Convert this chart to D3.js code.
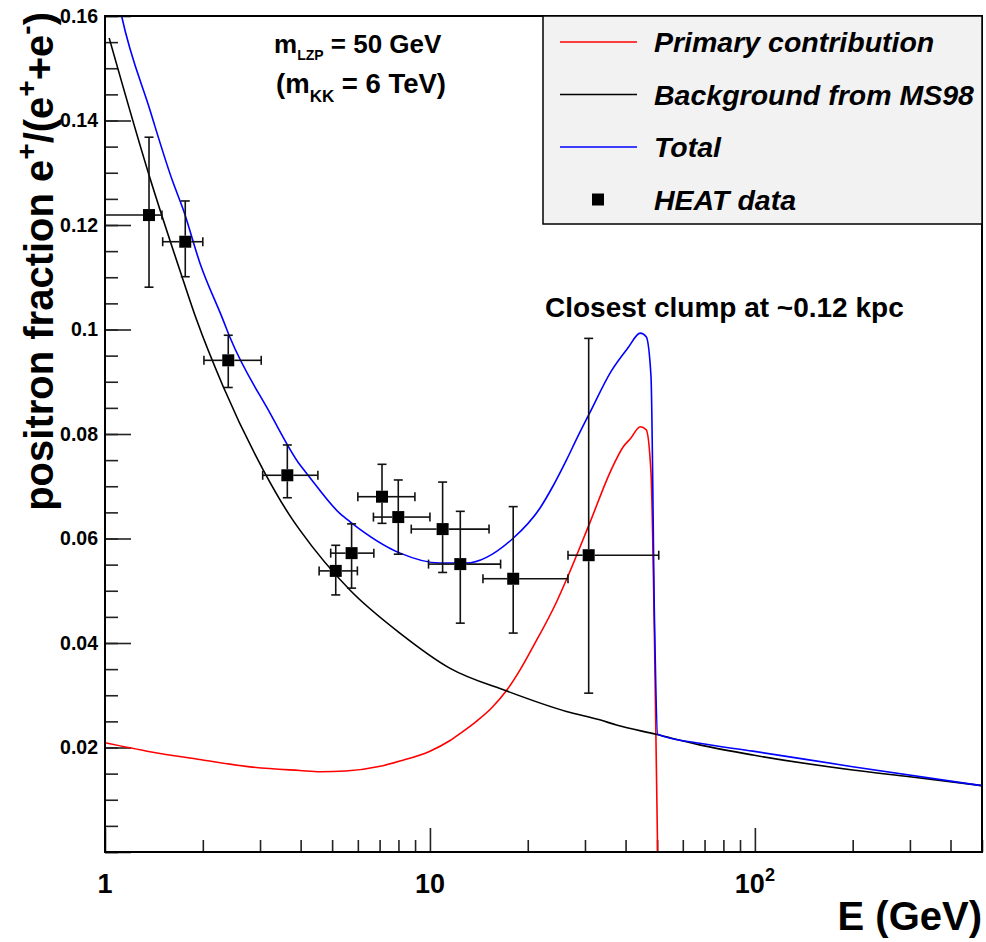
<!DOCTYPE html>
<html>
<head>
<meta charset="utf-8">
<script src="https://cdn.jsdelivr.net/npm/d3@7"></script>
<style>
    body { margin: 0; background: #fff; }
    svg text { font-family: "Liberation Sans", Arial, Helvetica, sans-serif; font-weight: bold; }
    .curve { fill: none; stroke-width: 1.6; }
    .tick line { stroke: #222; stroke-width: 1.6; }
</style>
</head>
<body>
<div id="graph"></div>
<script>
/*
    Positron fraction vs energy, HEAT data + model curves
*/

// HEAT data points (E in GeV, fraction)
var heatE        = [1.366, 1.766, 2.395, 3.64, 5.13, 5.74, 7.12, 7.99, 10.94, 12.40, 18.04, 30.8]
var heatFrac     = [0.1219, 0.1168, 0.0941, 0.0721, 0.0538, 0.0572, 0.0680, 0.0641, 0.0618, 0.0551, 0.0523, 0.0568]
var heatELow     = [1.0, 1.505, 2.016, 3.057, 4.56, 4.95, 6.00, 6.70, 8.76, 9.9, 14.56, 26.6]
var heatEHigh    = [1.497, 2.0, 3.025, 4.52, 5.98, 6.72, 8.99, 10.0, 15.2, 16.5, 26.6, 50.6]
var heatFracLow  = [0.1081, 0.1101, 0.0889, 0.0678, 0.0492, 0.0505, 0.0629, 0.0570, 0.0535, 0.0438, 0.0419, 0.0304]
var heatFracHigh = [0.1368, 0.1246, 0.0989, 0.0779, 0.0587, 0.0628, 0.0742, 0.0712, 0.0708, 0.0652, 0.0661, 0.0983]

// Background from MS98
var bgE    = [1.03, 1.375, 1.726, 1.915, 2.31, 3.07, 3.75, 3.98, 5.68, 8.08, 11.5, 17.25, 26.3, 33.3, 37.5, 49.6, 67.6, 98.6, 200, 300, 500]
var bgFrac = [0.1558, 0.129, 0.1101, 0.1018, 0.0891, 0.0731, 0.0639, 0.0616, 0.0501, 0.0419, 0.0352, 0.0308, 0.0269, 0.0253, 0.0243, 0.02253, 0.0205, 0.01856, 0.0157, 0.0144, 0.0127]

// Primary contribution
var priE    = [1.0, 1.375, 1.96, 2.79, 3.98, 4.6, 5.5, 7.03, 8.08, 10, 11.5, 12.4, 13.9, 15.5, 17.25, 19.0, 20.77, 24.5, 26.3, 31.0, 36.1, 39.4, 41.5, 44.4, 46.3, 47.9, 49.1, 50.2]
var priFrac = [0.0209, 0.0192, 0.0177, 0.0163, 0.0156, 0.01537, 0.0155, 0.0164, 0.0174, 0.0193, 0.0213, 0.0227, 0.0250, 0.0276, 0.0310, 0.0350, 0.0393, 0.0478, 0.0521, 0.0629, 0.0731, 0.0776, 0.0792, 0.0814, 0.0808, 0.0725, 0.0406, 0.0]

// Total
var totE    = [1.0, 1.125, 1.375, 1.61, 1.742, 1.96, 2.31, 2.42, 3.22, 3.98, 4.17, 5.28, 5.68, 8.1, 10.7, 12.9, 18.0, 21.8, 23.9, 26.3, 28.5, 31.0, 36.1, 40.7, 44.4, 46.3, 47.9, 49.1, 50.2, 67.6, 98.6, 200, 500]
var totFrac = [0.177, 0.16, 0.142, 0.1286, 0.1229, 0.1127, 0.1018, 0.0986, 0.0840, 0.0741, 0.0725, 0.0648, 0.0632, 0.0572, 0.0553, 0.0553, 0.0600, 0.0658, 0.0700, 0.0750, 0.0795, 0.0840, 0.0920, 0.0965, 0.0993, 0.0986, 0.091, 0.0444, 0.02253, 0.0208, 0.0193, 0.01633, 0.0127]

// axis ticks
var yMajor = [0, 0.02, 0.04, 0.06, 0.08, 0.1, 0.12, 0.14, 0.16]
var yLabels = ["0.02", "0.04", "0.06", "0.08", "0.1", "0.12", "0.14", "0.16"]
var xMajor = [1, 10, 100]
var xMinor = [2, 3, 4, 5, 6, 7, 8, 9, 20, 30, 40, 50, 60, 70, 80, 90, 200, 300, 400, 500]

var legendItems = [
    { label: "Primary contribution", color: "#ff0000", kind: "line" },
    { label: "Background from MS98", color: "#000000", kind: "line" },
    { label: "Total", color: "#0000ff", kind: "line" },
    { label: "HEAT data", color: "#000000", kind: "marker" }
]

/*
    Set the dimensions and margins of the graph
*/
var W = 986, H = 942
var margin = {top: 16, right: 4, bottom: 90, left: 105},
    width = W - margin.left - margin.right,
    height = H - margin.top - margin.bottom;

var svg = d3.select("#graph").append("svg")
            .attr("width", W)
            .attr("height", H)

var g = svg.append("g")
           .attr("transform", "translate(" + margin.left + "," + margin.top + ")")

var x = d3.scaleLog().domain([1, 500]).range([0, width]),
    y = d3.scaleLinear().domain([0, 0.16]).range([height, 0]);

g.append("clipPath").attr("id", "frame-clip")
    .append("rect").attr("width", width).attr("height", height)

// ticks, pointing inside the frame
g.append("g")
    .call(d3.axisRight(y).tickValues(d3.range(0, 0.1601, 0.005)).tickSize(13).tickFormat(""))
g.append("g")
    .call(d3.axisRight(y).tickValues(yMajor).tickSize(26).tickFormat(""))
g.append("g")
    .attr("transform", "translate(0," + height + ")")
    .call(d3.axisTop(x).tickValues(xMinor).tickSize(12).tickFormat(""))
g.append("g")
    .attr("transform", "translate(0," + height + ")")
    .call(d3.axisTop(x).tickValues(xMajor).tickSize(24).tickFormat(""))
g.selectAll(".domain").remove()

// y tick labels
var yLab = g.append("g")
    .call(d3.axisLeft(y).tickValues(yMajor.slice(1)).tickSize(0).tickPadding(7)
        .tickFormat(function (d, i) { return yLabels[i] }))
yLab.select(".domain").remove()
yLab.selectAll("text").attr("font-size", 19.5).attr("fill", "#000")
    .attr("font-family", "Liberation Sans, Arial, sans-serif")

// x tick labels
xMajor.forEach(function (d, i) {
    var t = g.append("text")
        .attr("x", x(d))
        .attr("y", height + 41)
        .attr("text-anchor", "middle")
        .attr("font-size", 27)
    if (i < 2) {
        t.text(String(d))
    } else {
        t.append("tspan").text("10")
        t.append("tspan").attr("dy", -12).attr("font-size", 18).text("2")
    }
})

// curves
var line = d3.line()
    .x(function (d) { return x(d[0]) })
    .y(function (d) { return y(d[1]) })
    .curve(d3.curveMonotoneX)

var curves = g.append("g").attr("clip-path", "url(#frame-clip)")

function drawCurve(es, vs, color) {
    curves.append("path")
        .attr("class", "curve")
        .attr("stroke", color)
        .attr("d", line(es.map(function (e, i) { return [e, vs[i]] })))
}
drawCurve(priE, priFrac, "#ff0000")
drawCurve(bgE, bgFrac, "#000000")
drawCurve(totE, totFrac, "#0000ff")

// HEAT data with error bars
var pts = g.append("g").attr("clip-path", "url(#frame-clip)")
var ms = 12, cap = 4.5, gap = ms / 2

heatE.forEach(function (e, i) {
    var cx = x(e), cy = y(heatFrac[i])
    var xl = x(heatELow[i]), xh = x(heatEHigh[i])
    var yl = y(heatFracLow[i]), yh = y(heatFracHigh[i])
    var segs = [
        [xl, cy, cx - gap, cy], [cx + gap, cy, xh, cy],
        [cx, yh, cx, cy - gap], [cx, cy + gap, cx, yl],
        [xl, cy - cap, xl, cy + cap], [xh, cy - cap, xh, cy + cap],
        [cx - cap, yh, cx + cap, yh], [cx - cap, yl, cx + cap, yl]
    ]
    segs.forEach(function (s) {
        pts.append("line")
            .attr("x1", s[0]).attr("y1", s[1]).attr("x2", s[2]).attr("y2", s[3])
            .attr("stroke", "#111").attr("stroke-width", 1.6)
    })
    pts.append("rect")
        .attr("x", cx - ms / 2).attr("y", cy - ms / 2)
        .attr("width", ms).attr("height", ms)
        .attr("fill", "#000")
})

// frame
g.append("rect")
    .attr("width", width).attr("height", height)
    .attr("fill", "none").attr("stroke", "#000").attr("stroke-width", 2)

// legend
var leg = svg.append("g").attr("transform", "translate(543,16)")
leg.append("rect")
    .attr("width", 439).attr("height", 208)
    .attr("fill", "#f2f2f2").attr("stroke", "#000").attr("stroke-width", 1.5)

legendItems.forEach(function (d, i) {
    var ly = 26 + i * 52.5
    if (d.kind == "line") {
        leg.append("line")
            .attr("x1", 17).attr("x2", 94).attr("y1", ly).attr("y2", ly)
            .attr("stroke", d.color).attr("stroke-width", 1.6)
    } else {
        leg.append("rect")
            .attr("x", 55 - 6).attr("y", ly - 6).attr("width", 12).attr("height", 12)
            .attr("fill", d.color)
    }
    leg.append("text")
        .attr("x", 111).attr("y", ly + 10)
        .attr("font-size", 28.5).attr("font-style", "italic")
        .text(d.label)
})

// annotations
var a1 = svg.append("text").attr("x", 274).attr("y", 53).attr("font-size", 26)
a1.append("tspan").text("m")
a1.append("tspan").attr("dy", 7).attr("font-size", 14).text("LZP")
a1.append("tspan").attr("dy", -7).text(" = 50 GeV")

var a2 = svg.append("text").attr("x", 276).attr("y", 93).attr("font-size", 27.5)
a2.append("tspan").text("(m")
a2.append("tspan").attr("dy", 9).attr("font-size", 17).text("KK")
a2.append("tspan").attr("dy", -9).text(" = 6 TeV)")

svg.append("text")
    .attr("x", 545).attr("y", 317)
    .attr("font-size", 28)
    .text("Closest clump at ~0.12 kpc")

// axis titles
svg.append("text")
    .attr("x", 982).attr("y", 930)
    .attr("text-anchor", "end")
    .attr("font-size", 40)
    .text("E (GeV)")

var yt = svg.append("text")
    .attr("transform", "translate(53,12) rotate(-90)")
    .attr("text-anchor", "end")
    .attr("font-size", 40)
yt.append("tspan").text("positron fraction e")
yt.append("tspan").attr("dy", -17).attr("font-size", 28).text("+")
yt.append("tspan").attr("dy", 17).text("/(e")
yt.append("tspan").attr("dy", -17).attr("font-size", 28).text("+")
yt.append("tspan").attr("dy", 17).text("+e")
yt.append("tspan").attr("dy", -17).attr("font-size", 28).text("-")
yt.append("tspan").attr("dy", 17).text(")")
</script>
</body>
</html>
